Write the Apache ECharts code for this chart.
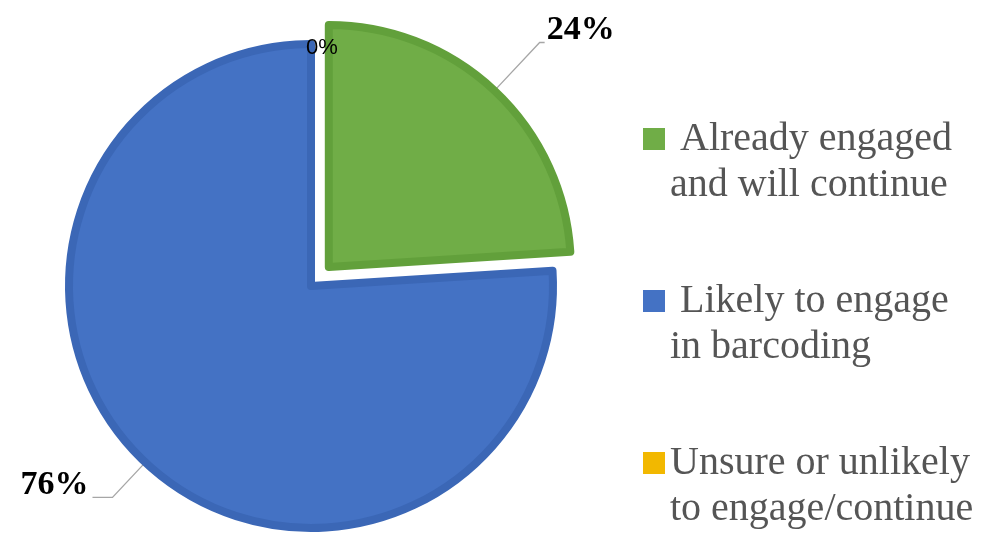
<!DOCTYPE html>
<html>
<head>
<meta charset="utf-8">
<script src="https://cdn.jsdelivr.net/npm/echarts@6/dist/echarts.min.js"></script>
<style>
  html, body { margin: 0; padding: 0; background: #ffffff; }
  #chart { width: 984px; height: 540px; }
</style>
</head>
<body>
<div id="chart"></div>
<script>
// Survey responses on barcoding engagement (percent of respondents)
const categories = ['Already engaged and will continue', 'Likely to engage in barcoding', 'Unsure or unlikely to engage/continue'];
const legendLabels = [' Already engaged\nand will continue', ' Likely to engage\nin barcoding', 'Unsure or unlikely\nto engage/continue'];
const shares = [24, 76, 0];
const fills = ['#70AD47', '#4472C4', '#F2B800'];
const edges = ['#62A03B', '#3B67B6', '#F2B800'];
const edgeWidths = [8, 8, 0];

const LINE_H = 46;

const chart = echarts.init(document.getElementById('chart'), null, { renderer: 'canvas' });

const labelFor = [
  { // green wedge: label up and to the right
    show: true, position: 'outside', formatter: '{d}%', distanceToLabelLine: 2,
    fontFamily: 'Liberation Serif', fontWeight: 'bold', fontSize: 34, color: '#000'
  },
  { // blue wedge: label to the lower left
    show: true, position: 'outside', formatter: '{d}%', distanceToLabelLine: 4,
    fontFamily: 'Liberation Serif', fontWeight: 'bold', fontSize: 34, color: '#000'
  },
  { // empty slice: small label at the top of the pie
    show: true, position: 'outside', formatter: '{d}%',
    fontFamily: 'Liberation Sans', fontSize: 22, color: '#000'
  }
];
const lineFor = [
  { show: true, length: 66, length2: 5, lineStyle: { color: '#A6A6A6', width: 1.3 } },
  { show: true, length: 48, length2: 20, lineStyle: { color: '#A6A6A6', width: 1.3 } },
  { show: false, length: 0, length2: 0 }
];
// small nudges so each label sits above the end of its leader line
const labelNudge = [{ dy: -12 }, { dy: -12 }, { dx: -10, dy: 4 }];

const data = categories.map((name, i) => ({
  name: name,
  value: shares[i],
  selected: i === 0,
  itemStyle: { color: fills[i], borderColor: edges[i], borderWidth: edgeWidths[i] },
  select: { itemStyle: { color: fills[i], borderColor: edges[i], borderWidth: edgeWidths[i] } },
  label: labelFor[i],
  labelLine: lineFor[i]
}));

// leading blank line puts the first text line level with the colour square
const nameToLegend = {};
categories.forEach((c, i) => { nameToLegend[c] = '\n' + legendLabels[i]; });

chart.setOption({
  animation: false,
  backgroundColor: '#ffffff',
  legend: {
    orient: 'vertical',
    left: 643,
    top: 70,
    itemWidth: 22,
    itemHeight: 22,
    itemGap: 24,
    icon: 'rect',
    selectedMode: false,
    padding: 0,
    data: categories.map((c, i) => ({ name: c, itemStyle: { color: fills[i], borderWidth: 0 } })),
    formatter: name => nameToLegend[name],
    textStyle: {
      fontFamily: 'Liberation Serif',
      fontSize: 40,
      color: '#555555',
      lineHeight: LINE_H
    }
  },
  series: [{
    type: 'pie',
    center: [311, 286],
    radius: [0, 242],
    startAngle: 90,
    clockwise: true,
    selectedMode: 'single',
    selectedOffset: 26,
    avoidLabelOverlap: false,
    stillShowZeroSum: true,
    minShowLabelAngle: 0,
    emphasis: { disabled: true },
    labelLayout: params => labelNudge[params.dataIndex],
    data: data
  }]
});
</script>
</body>
</html>
